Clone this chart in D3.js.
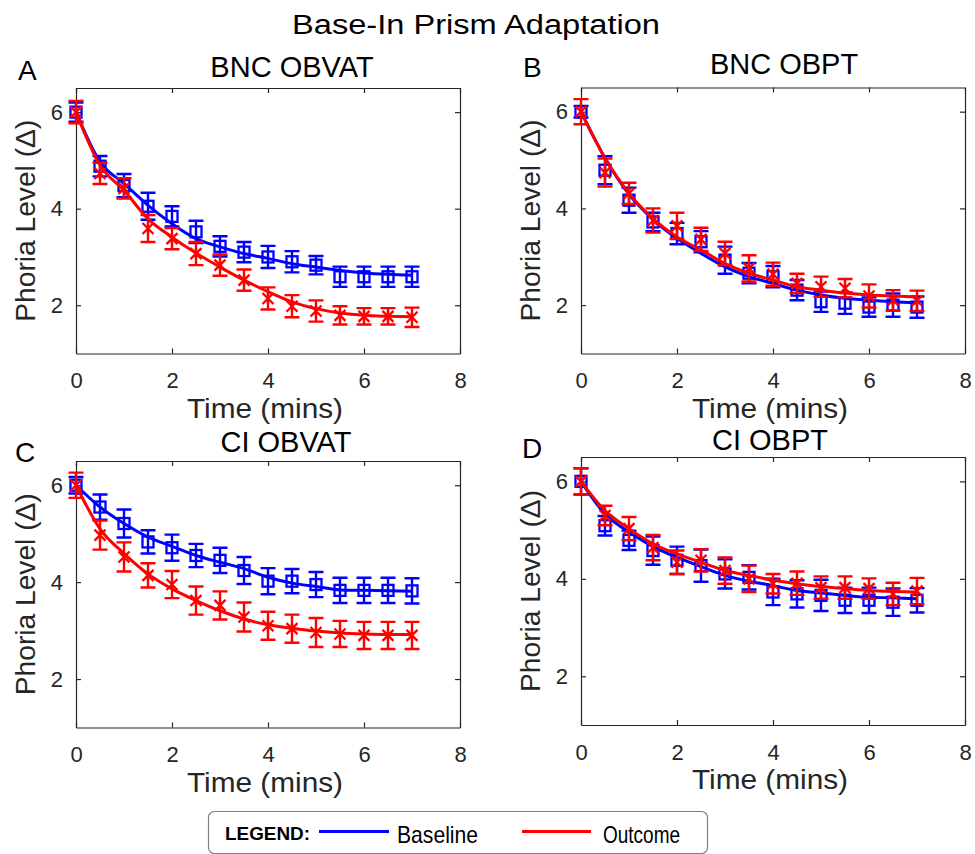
<!DOCTYPE html>
<html>
<head>
<meta charset="utf-8">
<script src="https://cdn.jsdelivr.net/npm/d3@7"></script>
<style>
  body { margin: 0; background: #fff; }
  text { font-family: "Liberation Sans", Arial, sans-serif; }
</style>
</head>
<body>
<script>
// time points (mins)
const times = [0, 0.5, 1, 1.5, 2, 2.5, 3, 3.5, 4, 4.5, 5, 5.5, 6, 6.5, 7];
const xTicks = [0, 2, 4, 6, 8];
const yTicks = [2, 4, 6];
const seriesNames = ["Baseline", "Outcome"];

// A: BNC OBVAT
const baseA = [6.0, 4.88, 4.48, 4.05, 3.84, 3.52, 3.22, 3.10, 3.00, 2.90, 2.83, 2.59, 2.59, 2.59, 2.59];
const baseAErr = [0.2, 0.21, 0.24, 0.28, 0.21, 0.23, 0.21, 0.21, 0.23, 0.22, 0.19, 0.21, 0.21, 0.21, 0.21];
const baseAFit = [6.0, 4.97, 4.52, 4.07, 3.69, 3.38, 3.21, 3.07, 2.97, 2.86, 2.79, 2.72, 2.67, 2.64, 2.62];
const outA = [6.0, 4.73, 4.42, 3.59, 3.38, 3.07, 2.83, 2.52, 2.14, 1.98, 1.88, 1.79, 1.77, 1.77, 1.75];
const outAErr = [0.23, 0.22, 0.21, 0.28, 0.22, 0.24, 0.22, 0.22, 0.23, 0.23, 0.22, 0.19, 0.17, 0.17, 0.2];
const outAFit = [6.0, 4.90, 4.38, 3.79, 3.41, 3.08, 2.79, 2.52, 2.28, 2.07, 1.93, 1.84, 1.79, 1.77, 1.76];

// B: BNC OBPT
const baseB = [6.0, 4.79, 4.17, 3.72, 3.48, 3.31, 2.93, 2.66, 2.59, 2.31, 2.07, 2.04, 1.96, 2.0, 1.96];
const baseBErr = [0.12, 0.29, 0.26, 0.19, 0.22, 0.22, 0.28, 0.21, 0.22, 0.21, 0.21, 0.22, 0.2, 0.24, 0.22];
const baseBFit = [6.0, 5.04, 4.29, 3.77, 3.38, 3.07, 2.79, 2.59, 2.45, 2.31, 2.21, 2.14, 2.10, 2.07, 2.05];
const outB = [6.0, 4.74, 4.31, 3.75, 3.64, 3.36, 3.07, 2.76, 2.64, 2.45, 2.38, 2.35, 2.19, 2.10, 2.09];
const outBErr = [0.26, 0.29, 0.22, 0.25, 0.27, 0.24, 0.24, 0.27, 0.24, 0.2, 0.21, 0.19, 0.24, 0.21, 0.21];
const outBFit = [6.0, 5.04, 4.31, 3.79, 3.41, 3.14, 2.86, 2.66, 2.52, 2.38, 2.31, 2.25, 2.21, 2.19, 2.17];

// C: CI OBVAT
const baseC = [6.0, 5.55, 5.21, 4.83, 4.71, 4.55, 4.45, 4.24, 4.02, 4.02, 3.95, 3.83, 3.83, 3.83, 3.82];
const baseCErr = [0.17, 0.26, 0.29, 0.24, 0.27, 0.24, 0.26, 0.28, 0.27, 0.25, 0.26, 0.26, 0.26, 0.26, 0.26];
const baseCFit = [6.0, 5.55, 5.21, 4.93, 4.74, 4.55, 4.41, 4.28, 4.10, 3.98, 3.91, 3.84, 3.83, 3.82, 3.81];
const outC = [6.0, 4.97, 4.52, 4.14, 3.95, 3.62, 3.52, 3.28, 3.10, 3.04, 2.96, 2.93, 2.90, 2.90, 2.90];
const outCErr = [0.26, 0.3, 0.3, 0.25, 0.28, 0.29, 0.29, 0.3, 0.29, 0.29, 0.3, 0.27, 0.28, 0.28, 0.28];
const outCFit = [6.0, 5.10, 4.59, 4.17, 3.86, 3.62, 3.41, 3.24, 3.12, 3.05, 2.99, 2.95, 2.93, 2.92, 2.92];

// D: CI OBPT
const baseD = [6.0, 5.09, 4.79, 4.58, 4.38, 4.27, 4.10, 4.03, 3.73, 3.69, 3.66, 3.56, 3.56, 3.52, 3.56];
const baseDErr = [0.27, 0.2, 0.2, 0.29, 0.28, 0.33, 0.3, 0.25, 0.27, 0.28, 0.32, 0.26, 0.26, 0.28, 0.25];
const baseDFit = [6.0, 5.33, 4.96, 4.66, 4.44, 4.25, 4.07, 3.95, 3.86, 3.76, 3.71, 3.66, 3.62, 3.61, 3.59];
const outD = [6.0, 5.30, 5.03, 4.64, 4.34, 4.38, 4.17, 4.0, 3.90, 3.91, 3.82, 3.82, 3.80, 3.69, 3.75];
const outDErr = [0.27, 0.2, 0.24, 0.26, 0.24, 0.23, 0.27, 0.27, 0.2, 0.24, 0.23, 0.23, 0.21, 0.23, 0.27];
const outDFit = [6.0, 5.40, 5.03, 4.72, 4.51, 4.34, 4.17, 4.07, 3.97, 3.90, 3.84, 3.80, 3.76, 3.74, 3.73];

const BLUE = "#0000ff";
const RED = "#ff0000";
const AXIS = "#262626";

const panels = [
    { letter: "A", title: "BNC OBVAT", box: [76, 460, 88, 353.5], letterPos: [18, 80], titlePos: [292, 77],
      base: [baseA, baseAErr, baseAFit], out: [outA, outAErr, outAFit] },
    { letter: "B", title: "BNC OBPT", box: [581, 965, 87.5, 353.5], letterPos: [523, 77], titlePos: [784, 74],
      base: [baseB, baseBErr, baseBFit], out: [outB, outBErr, outBFit] },
    { letter: "C", title: "CI OBVAT", box: [76, 460, 461, 727.5], letterPos: [15, 462], titlePos: [286, 452],
      base: [baseC, baseCErr, baseCFit], out: [outC, outCErr, outCFit] },
    { letter: "D", title: "CI OBPT", box: [581, 965, 457, 725], letterPos: [522, 458], titlePos: [770, 450],
      base: [baseD, baseDErr, baseDFit], out: [outD, outDErr, outDFit] },
];

const svg = d3.select("body").append("svg")
    .attr("width", 975)
    .attr("height", 854);

svg.append("text")
    .attr("x", 292).attr("y", 34)
    .style("font-size", "27px")
    .attr("textLength", 368)
    .attr("lengthAdjust", "spacingAndGlyphs")
    .attr("fill", "#000")
    .text("Base-In Prism Adaptation");

const drawSeries = (g, x, y, vals, errs, fit, color, marker) => {
    const line = d3.line()
        .x((d, i) => x(times[i]))
        .y((d) => y(d))
        .curve(d3.curveMonotoneX);

    g.append("path")
        .datum(fit)
        .attr("d", line)
        .attr("fill", "none")
        .attr("stroke", color)
        .attr("stroke-width", 3);

    const pts = vals.map((v, i) => ({ t: times[i], v: v, e: errs[i] }));

    const eb = g.append("g")
        .attr("stroke", color)
        .attr("stroke-width", 2.4)
        .attr("fill", "none");

    eb.selectAll("path")
        .data(pts)
        .enter()
        .append("path")
        .attr("d", (d) => {
            const cx = x(d.t), y1 = y(d.v + d.e), y2 = y(d.v - d.e), w = 7.5;
            return `M${cx},${y1}V${y2}M${cx - w},${y1}H${cx + w}M${cx - w},${y2}H${cx + w}`;
        });

    const mk = g.append("g")
        .attr("stroke", color)
        .attr("stroke-width", 2.3)
        .attr("fill", "none");

    if (marker === "square") {
        mk.selectAll("rect")
            .data(pts)
            .enter()
            .append("rect")
            .attr("x", (d) => x(d.t) - 5.5)
            .attr("y", (d) => y(d.v) - 5.5)
            .attr("width", 11)
            .attr("height", 11);
    } else {
        mk.selectAll("path")
            .data(pts)
            .enter()
            .append("path")
            .attr("d", (d) => {
                const cx = x(d.t), cy = y(d.v), r = 5.5;
                return `M${cx - r},${cy - r}L${cx + r},${cy + r}M${cx - r},${cy + r}L${cx + r},${cy - r}M${cx},${cy - r}V${cy + r}`;
            });
    }
};

panels.forEach((p) => {
    const [left, right, top, bottom] = p.box;
    const x = d3.scaleLinear().domain([0, 8]).range([left, right]);
    const y = d3.scaleLinear().domain([1, 6.5]).range([bottom, top]);
    const g = svg.append("g");

    // axes box with inward ticks on all sides
    const styleAxis = (sel) => {
        sel.attr("font-size", null).attr("font-family", null);
        sel.select(".domain").attr("stroke", AXIS).attr("stroke-width", 1.2);
        sel.selectAll(".tick line").attr("stroke", AXIS).attr("stroke-width", 1.2);
        sel.selectAll("text")
            .attr("fill", AXIS)
            .style("font-size", "22px");
    };

    g.append("g")
        .attr("transform", `translate(0,${bottom})`)
        .call(d3.axisBottom(x).tickValues(xTicks).tickFormat(d3.format("d"))
            .tickSizeInner(-5).tickSizeOuter(0).tickPadding(19))
        .call(styleAxis);
    g.append("g")
        .attr("transform", `translate(0,${top})`)
        .call(d3.axisTop(x).tickValues(xTicks).tickSizeInner(-5).tickSizeOuter(0).tickFormat(""))
        .call(styleAxis);
    g.append("g")
        .attr("transform", `translate(${left},0)`)
        .call(d3.axisLeft(y).tickValues(yTicks).tickFormat(d3.format("d"))
            .tickSizeInner(-5).tickSizeOuter(0).tickPadding(13))
        .call(styleAxis);
    g.append("g")
        .attr("transform", `translate(${right},0)`)
        .call(d3.axisRight(y).tickValues(yTicks).tickSizeInner(-5).tickSizeOuter(0).tickFormat(""))
        .call(styleAxis);

    drawSeries(g, x, y, p.base[0], p.base[1], p.base[2], BLUE, "square");
    drawSeries(g, x, y, p.out[0], p.out[1], p.out[2], RED, "cross");

    g.append("text")
        .attr("x", p.titlePos[0]).attr("y", p.titlePos[1])
        .attr("text-anchor", "middle")
        .style("font-size", "29px")
        .attr("fill", "#000")
        .text(p.title);

    g.append("text")
        .attr("x", p.letterPos[0]).attr("y", p.letterPos[1])
        .style("font-size", "28px")
        .attr("fill", "#000")
        .text(p.letter);

    g.append("text")
        .attr("x", (left + right) / 2 - 3).attr("y", bottom + 64)
        .attr("text-anchor", "middle")
        .style("font-size", "28px")
        .attr("textLength", 156)
        .attr("lengthAdjust", "spacingAndGlyphs")
        .attr("fill", AXIS)
        .text("Time (mins)");

    g.append("text")
        .attr("transform", `translate(${left - 41},${(top + bottom) / 2}) rotate(-90)`)
        .attr("text-anchor", "middle")
        .style("font-size", "28px")
        .attr("textLength", 202)
        .attr("lengthAdjust", "spacingAndGlyphs")
        .attr("fill", AXIS)
        .text("Phoria Level (\u0394)");
});

// legend
const lg = svg.append("g");
lg.append("rect")
    .attr("x", 208.5).attr("y", 811.5)
    .attr("width", 499).attr("height", 42)
    .attr("rx", 6)
    .attr("fill", "#fff")
    .attr("stroke", "#808080")
    .attr("stroke-width", 1.2);
lg.append("text")
    .attr("x", 225).attr("y", 840)
    .style("font-size", "18px")
    .attr("font-weight", "bold")
    .attr("textLength", 85)
    .attr("lengthAdjust", "spacingAndGlyphs")
    .text("LEGEND:");

const legendItems = [
    { name: seriesNames[0], color: BLUE, x1: 319, x2: 389, tx: 397, tw: 81 },
    { name: seriesNames[1], color: RED, x1: 522, x2: 591, tx: 603, tw: 77 },
];
legendItems.forEach((d) => {
    lg.append("line")
        .attr("x1", d.x1).attr("x2", d.x2)
        .attr("y1", 831.5).attr("y2", 831.5)
        .attr("stroke", d.color)
        .attr("stroke-width", 3);
    lg.append("text")
        .attr("x", d.tx).attr("y", 843)
        .style("font-size", "24px")
        .attr("textLength", d.tw)
        .attr("lengthAdjust", "spacingAndGlyphs")
        .attr("fill", "#000")
        .text(d.name);
});
</script>
</body>
</html>
